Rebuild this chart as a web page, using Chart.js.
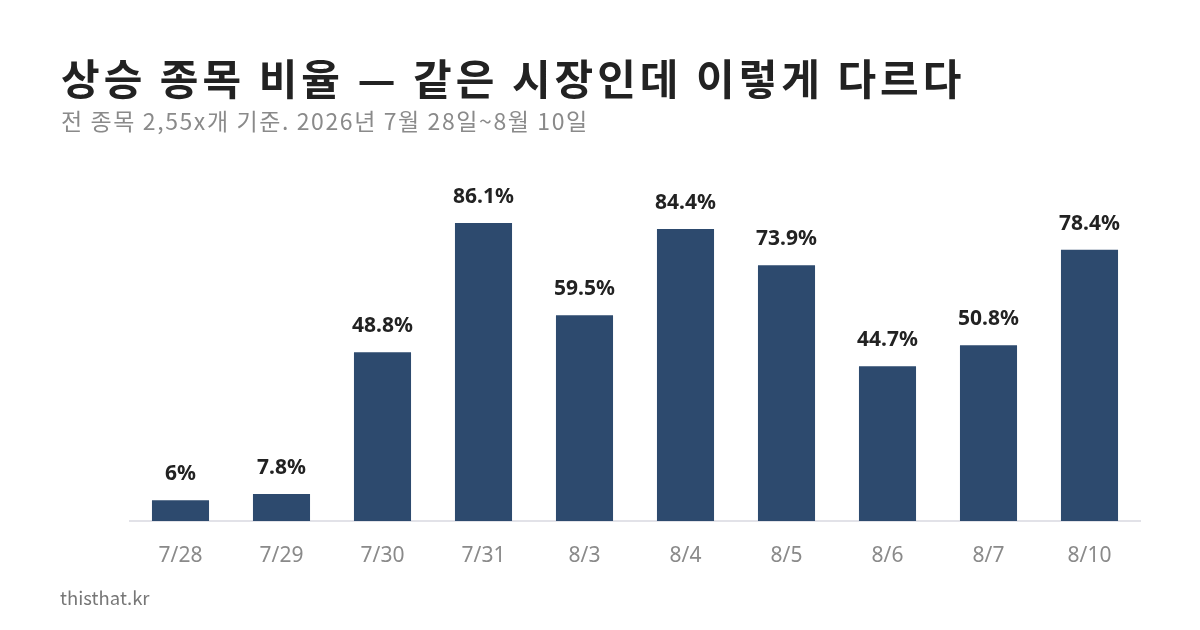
<!DOCTYPE html>
<html><head><meta charset="utf-8">
<script src="https://cdn.jsdelivr.net/npm/chart.js@4/dist/chart.umd.min.js"></script>
<style>
html,body{margin:0;padding:0;background:#fff;}
body{width:1200px;height:630px;position:relative;overflow:hidden;font-family:"Noto Sans CJK KR","Noto Sans",sans-serif;}
#title{position:absolute;left:61px;top:52px;font-size:42px;font-weight:700;color:#222;white-space:nowrap;line-height:1.2;letter-spacing:4px;}
#sub{position:absolute;left:61px;top:107px;font-size:23px;color:#8a8a8a;white-space:nowrap;line-height:1.2;letter-spacing:1.6px;}
#foot{position:absolute;left:60px;top:586px;font-size:18.5px;color:#777;white-space:nowrap;line-height:1.2;}
#wrap{position:absolute;left:0;top:0;width:1200px;height:630px;}
</style></head>
<body>
<div id="wrap"><canvas id="c" width="1200" height="630"></canvas></div>
<div id="title">상승 종목 비율 — 같은 시장인데 이렇게 다르다</div>
<div id="sub">전 종목 2,55x개 기준. 2026년 7월 28일~8월 10일</div>
<div id="foot">thisthat.kr</div>
<script>
const categories = ["7/28","7/29","7/30","7/31","8/3","8/4","8/5","8/6","8/7","8/10"];
const values = [6, 7.8, 48.8, 86.1, 59.5, 84.4, 73.9, 44.7, 50.8, 78.4];

const labelPlugin = {
  id: 'barLabels',
  afterDatasetsDraw(chart) {
    const ctx = chart.ctx;
    const meta = chart.getDatasetMeta(0);
    ctx.save();
    ctx.font = 'bold 21px "Noto Sans", "Noto Sans CJK KR", sans-serif';
    ctx.fillStyle = '#222';
    ctx.textAlign = 'center';
    ctx.textBaseline = 'alphabetic';
    meta.data.forEach((bar, i) => {
      ctx.fillText(values[i] + '%', bar.x, bar.y - 20);
    });
    ctx.restore();
  }
};

new Chart(document.getElementById('c'), {
  type: 'bar',
  data: {
    labels: categories,
    datasets: [{
      data: values,
      backgroundColor: '#2d4a6e',
      borderWidth: 0,
      categoryPercentage: 1,
      barPercentage: 0.565
    }]
  },
  options: {
    responsive: false,
    animation: false,
    devicePixelRatio: 1,
    layout: { padding: { left: 130, right: 60, top: 175, bottom: 49 } },
    plugins: { legend: { display: false }, tooltip: { enabled: false } },
    scales: {
      x: {
        grid: { display: false, drawTicks: false },
        border: { display: true, color: '#e2e2e8', width: 2 },
        ticks: { color: '#8a8a8a', font: { size: 21, family: '"Noto Sans", "Noto Sans CJK KR", sans-serif' }, padding: 22 },
        afterFit(scale) { scale.height = 60; }
      },
      y: {
        display: false,
        min: 0, max: 100
      }
    }
  },
  plugins: [labelPlugin]
});
</script>
</body></html>
